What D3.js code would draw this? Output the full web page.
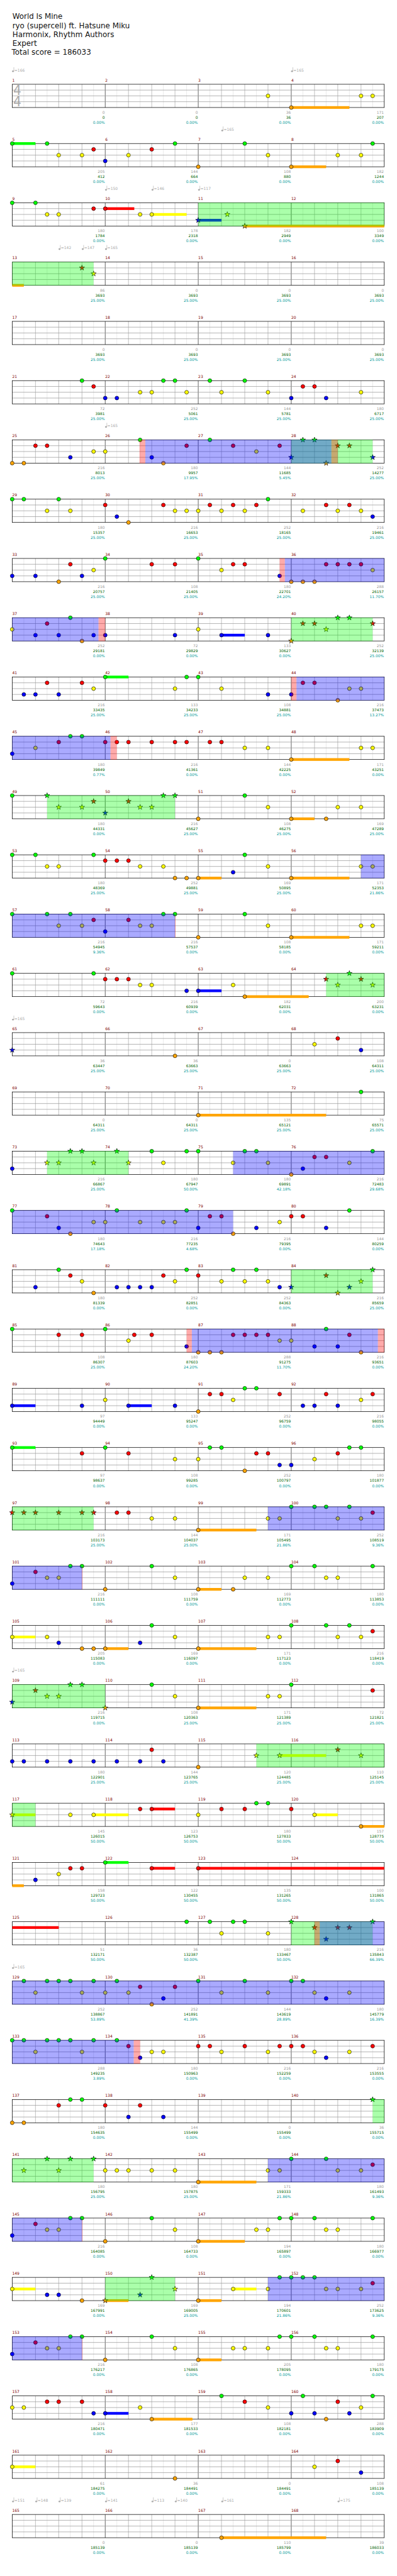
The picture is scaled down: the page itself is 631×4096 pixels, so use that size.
<!DOCTYPE html>
<html><head><meta charset="utf-8">
<script src="https://cdn.jsdelivr.net/npm/d3@7"></script>
<style>html,body{margin:0;padding:0;background:#fff}svg{display:block}text{font-family:"DejaVu Sans",sans-serif}</style>
</head><body><script>
const titleLines=["World Is Mine","ryo (supercell) ft. Hatsune Miku","Harmonix, Rhythm Authors","Expert","Total score = 186033"];
// one inner list per staff row; values are eighth-note positions on that row (0-32)
const greenNotes=[[],[0,3,14,20,31],[0,2],[],[],[6,13,14,17,20],[11,17,25,26],[0,1,4,22],[8,16],[5,28,29],[8,15,16],[5,6],[0,3,13,14,20],[0,2,7,20],[0,3,5,13,14,20],[0,7,29],[],[30],[5,6,9,12,15,16,20,21,31],[0,9,15,29],[4,15,19,21,31],[0,8,27],[20,21],[0,8,17,18,29,30],[24,26,27,29],[5,6,12,24,26,31],[12,24,27,29],[5,6,12,24],[],[21,22],[8],[15,17,19,20,24,31],[1,3,4,5,7,9,16,20,24,25],[0,1,3,4,5,7,9],[5,6,31],[3,5,7,24,27],[5,6,12,23,24,26,31],[12,23,24,25,26],[5,6,12,23,24,26,31],[18,25,31],[],[]];
const redNotes=[[],[7,12],[7,8],[6],[],[7,25,26],[2,3,15,19,23,28,29],[8,13,17,19,21,27,29],[5,12,14,19,20,27,28,29,30],[3,25,26,31],[3,6,25,26],[4,8,9,10,12,14,15,17,18],[7,10],[8,9,10],[7,10],[8,9,10,27,30],[28],[],[26,27],[3,17,18,24,25],[5,13,16,27],[4,6,10.5,12,19,20,21,22,29],[17,18,23,27,31],[6,10,21,22,28],[0,1,2,4,6,7,9,10,31],[2],[31],[2,31],[12,28],[11,12,18,20,24],[5,6,12,16],[26,28,29],[11,14],[10,16,17,20,23,24,25,31],[4,8,11],[31],[2],[31],[2],[3,4,6,20,28],[28 ],[]];
const yellowNotes=[[22,30,31],[4,6,10,22,28,30],[3,4,11,12,18.5],[7],[],[11,12,15,18,22,30],[7,8,21],[3,5,14,15,16,18,20,25,28,30],[7,18,31],[0,16,27],[7,14,18,29,30],[2,20,22,30,31],[4,6,11,12,22,28,30],[3,4,11,13,22,30,31],[4,6,11,12,22,30,31],[11,12,19,28,31],[26],[],[3,4,7,10,13,19,22,29],[7,8,11,13,14,23],[6,14,18,20,22,30],[10,23,24],[8,19,30],[14,16,26],[12,14,22,23,28,30],[3,4,14,20,22,27,28],[0,3,14,22,23,28,30],[3,4,14,22,23],[21,23,30],[0,5,7,16,26],[4],[18,22],[2,6,8,10,18,22,26,29],[2,6,12,13,18,22,26,29],[],[1,4,8,9,10,12,14,22,23,28,30],[3,4,14,21,22,27,28],[0,14,19,22,27,28,30],[3,4,14,19,20,22,27,28],[0,1,11,22,30],[0,26],[]];
const blueNotes=[[],[8],[16],[],[],[8,9,24,27],[5,12,24,31],[9,31],[0,2,6,23],[2,4,7,8,14,18,22],[1,2,4,22,24],[0],[8],[19],[8],[15,16],[0,30],[],[0,25],[4,16,21,27],[2,9,10,11,12,23,24,29],[15,26,28],[0,6,10,14,25,26,28],[23,24],[],[0],[4,11],[0],[0,1,3,5,7,9,11,13],[],[2],[27],[13,27],[11,27],[10,13],[],[0],[3,4,11],[0],[7,8,24,26,29],[30],[]];
const orangeNotes=[[24],[16,24],[20],[],[],[],[0,1,13,27],[10],[4,24,25,26],[6,24],[28],[24],[16,24,27],[14,15,16,24],[16,24],[20],[14],[16],[24],[5,19],[7,28],[16,17,18,30],[16],[20],[16],[8,16,19],[6,7,8,16],[8,16],[16],[30],[],[],[12],[],[0,1],[16],[8,16],[6,8,16],[8,16],[12,27],[14],[18]];
const starPositions=[[],[],[16,18.5,20],[6,7],[],[],[24,25,26,27,28,29,31],[],[],[24,25,26,27,28,29,31],[],[],[3,4,6,7,8,10,11,12,13,14],[],[],[27,28,29,30,31],[0],[],[3,4,5,6,7,9,10],[],[24,27,28,29,30,31],[],[],[],[0,1,2,4,6,7],[],[],[0,2,3,4,5,6,8],[21,23,28,30],[0],[],[24,26,27,28,29,31],[],[],[31],[1,3,4,5,7],[],[8,11,12,14],[],[],[],[]];
// sustains: row, lane (0 green .. 4 orange), start eighth, end eighth
const sustains=[[0,4,24,29],[1,0,0,2],[1,4,24,27],[2,2,12,15],[2,1,8,10.5],[2,3,16,18],[2,4,20,32],[3,4,0,1],[9,3,18,20],[10,0,8,10],[11,4,24,29],[12,4,24,26],[13,4,16,18],[13,4,24,29],[14,4,24,29],[15,3,16,18],[15,4,20,25.5],[17,4,16,27],[22,3,0,2],[22,3,10,12],[23,0,0,2],[24,4,16,21],[25,4,16,18],[26,2,0,2],[26,4,8,10],[26,4,16,21],[27,4,16,21],[28,2,23,27],[29,2,0,2],[29,2,7,10],[29,1,12,14],[29,2,26,28],[29,4,30,32],[30,4,0,1],[30,0,8,10],[30,1,12,14],[30,1,16,32],[31,1,0,4],[35,4,16,21],[36,4,16,20],[37,2,0,2],[37,4,8,10],[37,4,16,18],[37,2,19,21],[38,4,16,18],[39,3,8,10],[39,4,12,15.5],[40,2,0,2],[41,4,18,27]];
// shaded spans: row, start eighth, end eighth
const starSpans=[[2,16,32],[3,0,7],[6,24,31],[9,24,31],[12,3,14],[15,27,32],[18,3,10],[20,24,31],[24,0,7],[27,0,8],[28,21,32],[29,0,2],[31,24,31],[34,31,32],[35,0,7],[37,8,14]];
const pinkSpans=[[6,10.95,11.45],[6,27.45,28],[8,23,23.45],[9,7.42,8],[10,24,24.45],[11,8.45,9],[14,14,14.05],[21,15,15.45],[21,31.45,32],[25,6,6.05],[31,26,26.45],[33,10.45,11],[36,6,6.05],[38,6,6.05]];
const blueSpans=[[6,11.45,27.45],[8,23.45,32],[9,0,7.42],[10,24.45,32],[11,0,8.45],[13,30,32],[14,0,14],[18,19,32],[19,0,19],[21,15.45,31.45],[24,22,32],[25,0,6],[31,26.45,32],[32,0,32],[33,0,10.45],[35,22,32],[36,0,6],[37,22,32],[38,0,6]];
const tempos=[[0,0,166],[0,24,165],[1,18,165],[2,8,150],[2,12,146],[2,16,117],[3,4,142],[3,6,147],[3,8,165],[6,8,165],[16,0,165],[27,0,165],[32,0,165],[41,0,151],[41,2,148],[41,4,139],[41,8,141],[41,12,113],[41,14,140],[41,18,161],[41,28,175]];
const measureScores=[0,0,36,171,205,144,108,182,180,178,182,100,86,0,0,0,0,0,0,0,72,252,144,180,216,180,144,252,180,216,252,216,216,108,180,288,252,72,133,252,216,133,108,216,180,216,144,171,180,216,108,169,180,252,169,171,216,216,108,171,72,216,182,200,36,36,0,108,0,0,135,75,216,180,180,216,180,216,216,144,180,252,252,216,108,180,288,216,97,133,252,216,97,108,252,180,216,144,171,252,216,108,169,180,205,169,171,216,216,108,171,72,180,144,120,110,145,123,180,157,158,122,135,100,51,36,180,216,252,252,144,180,288,180,216,216,180,144,0,36,180,180,171,180,216,108,194,180,169,169,194,252,216,108,205,180,216,177,108,288,61,36,0,108,0,0,110,39];
const runningTotals=[0,0,36,207,412,664,880,1244,1784,2318,2949,3349,3693,3693,3693,3693,3693,3693,3693,3693,3981,5061,5781,6717,8013,9957,11685,14277,15357,16653,18165,19461,20757,21405,22701,26157,29181,29829,30627,32139,33435,34233,34881,37473,39849,41361,42225,43251,44331,45627,46275,47289,48369,49881,50895,52353,54945,57537,58185,59211,59643,60939,62031,63231,63447,63663,63663,64311,64311,64311,65121,65571,66867,67947,69891,72483,74643,77235,79395,80259,81339,82851,84363,85659,86307,87603,91275,93651,94449,95247,96759,98055,98637,99285,100797,101877,103173,104037,105495,108519,111111,111759,112773,113853,115083,116097,117123,118419,119715,120363,121389,121821,122901,123765,124485,125145,126015,126753,127833,128775,129723,130455,131265,131865,132171,132387,133467,135843,138867,141891,143619,145779,149235,150963,152259,153555,154635,155499,155499,155715,156795,157875,159333,161493,164085,164733,165897,166977,167991,169005,170601,173625,176217,176865,178095,179175,180471,181533,182181,183909,184275,184491,184491,185139,185139,185139,185799,186033];
const percents=["0.00","0.00","0.00","0.00","0.00","0.00","0.00","0.00","0.00","0.00","0.00","0.00","25.00","25.00","25.00","25.00","25.00","25.00","25.00","25.00","25.00","25.00","25.00","25.00","25.00","17.95","5.45","25.00","25.00","25.00","25.00","25.00","25.00","25.00","24.20","11.70","0.00","0.00","0.00","25.00","25.00","25.00","25.00","13.27","0.77","0.00","0.00","0.00","0.00","25.00","25.00","25.00","25.00","25.00","25.00","21.86","9.36","0.00","0.00","0.00","0.00","0.00","0.00","0.00","25.00","25.00","25.00","25.00","25.00","25.00","25.00","25.00","25.00","50.00","42.18","29.68","17.18","4.68","0.00","0.00","0.00","0.00","0.00","25.00","25.00","24.20","11.70","0.00","0.00","0.00","0.00","0.00","0.00","0.00","0.00","0.00","25.00","25.00","21.86","9.36","0.00","0.00","0.00","0.00","0.00","0.00","0.00","0.00","0.00","25.00","25.00","25.00","25.00","25.00","25.00","25.00","50.00","50.00","50.00","50.00","50.00","50.00","50.00","50.00","50.00","50.00","50.00","66.39","53.89","41.39","28.89","16.39","3.89","0.00","0.00","0.00","0.00","0.00","0.00","0.00","25.00","25.00","21.86","9.36","0.00","0.00","0.00","0.00","0.00","25.00","21.86","9.36","0.00","0.00","0.00","0.00","0.00","0.00","0.00","0.00","0.00","0.00","0.00","0.00","0.00","0.00","0.00","0.00"];

const laneData=[greenNotes,redNotes,yellowNotes,blueNotes,orangeNotes];
const laneColors=["#00ff00","#ff0000","#ffff00","#0000ff","#ffa500"];
const SCALE=0.616, ROWS=42;
const x=d3.scaleLinear().domain([0,32]).range([31.5,991.5]);
const yLane=d3.scaleLinear().domain([0,4]).range([0,60]);
const yRow=d3.scaleLinear().domain([0,ROWS-1]).range([217.5,6490.5]);

const svg=d3.select("body").append("svg").attr("width",631).attr("height",4096);
const root=svg.append("g").attr("transform",`scale(${SCALE})`);

root.selectAll("text.title").data(titleLines).join("text").attr("class","title")
  .attr("x",(d,i)=>i==4?30:32).attr("y",(d,i)=>49.5+i*23).attr("font-size",19.3).attr("fill","#111").text(d=>d);

const starPath=d3.symbol(d3.symbolStar,58)();
const gridEighth=d3.range(1,32);
d3.range(ROWS).forEach(r=>{
  const g=root.append("g").attr("transform",`translate(0,${yRow(r)})`);
  if(r===0){
    g.selectAll("text.sig").data([27.5,57.5]).join("text").attr("class","sig").attr("x",34).attr("y",d=>d)
      .attr("font-size",33).attr("fill","#aaaaaa").text("4");
  }
  // vertical grid
  g.selectAll("line.v").data(gridEighth).join("line").attr("class","v")
    .attr("x1",d=>x(d)).attr("x2",d=>x(d)).attr("y1",0).attr("y2",60)
    .attr("stroke",d=>d%8===0?"#000":d%2===0?"#999":"#ddd").attr("stroke-width",1);
  // string lines
  g.selectAll("line.h").data([1,2,3]).join("line").attr("class","h")
    .attr("x1",x(0)).attr("x2",x(32)).attr("y1",d=>yLane(d)).attr("y2",d=>yLane(d))
    .attr("stroke","#999").attr("stroke-width",1.2);
  g.append("rect").attr("x",x(0)).attr("y",0).attr("width",x(32)-x(0)).attr("height",60)
    .attr("fill","none").attr("stroke","#000").attr("stroke-width",1.2);
  // sustains
  g.selectAll("rect.s").data(sustains.filter(s=>s[0]===r)).join("rect").attr("class","s")
    .attr("x",d=>x(d[2])).attr("width",d=>x(d[3])-x(d[2])).attr("y",d=>yLane(d[1])-3.5).attr("height",7)
    .attr("fill",d=>laneColors[d[1]]);
  // notes
  laneData.forEach((rowsOfLane,lane)=>{
    const pts=rowsOfLane[r];
    const isStar=p=>starPositions[r].includes(p);
    g.selectAll(`circle.l${lane}`).data(pts.filter(p=>!isStar(p))).join("circle").attr("class",`l${lane}`)
      .attr("cx",d=>x(d)).attr("cy",yLane(lane)).attr("r",4.9)
      .attr("fill",laneColors[lane]).attr("stroke","#000").attr("stroke-width",1);
    g.selectAll(`path.l${lane}`).data(pts.filter(isStar)).join("path").attr("class",`l${lane}`)
      .attr("d",starPath).attr("transform",d=>`translate(${x(d)},${yLane(lane)})`)
      .attr("fill",laneColors[lane]).attr("stroke","#000").attr("stroke-width",1);
  });
  // translucent spans over the notes, clipped to the staff height
  [[starSpans,"#00ff00"],[pinkSpans,"#ff0000"],[blueSpans,"#0000ff"]].forEach(([spans,c],k)=>{
    g.selectAll(`rect.o${k}`).data(spans.filter(s=>s[0]===r)).join("rect").attr("class",`o${k}`)
      .attr("x",d=>x(d[1])).attr("width",d=>x(d[2])-x(d[1])).attr("y",-0.5).attr("height",61)
      .attr("fill",c).attr("fill-opacity",1/3);
  });
  // measure numbers and per-measure labels
  const ms=d3.range(4).map(i=>r*4+i);
  g.selectAll("text.num").data(ms).join("text").attr("class","num")
    .attr("x",d=>x((d-r*4)*8)).attr("y",-7).attr("font-size",9.8).attr("fill","#800000").text(d=>d+1);
  const lab=(arr,cls,dy,col,f)=>g.selectAll("text."+cls).data(ms).join("text").attr("class",cls)
    .attr("x",d=>x((d-r*4+1)*8)-1).attr("y",dy).attr("text-anchor","end").attr("font-size",9.6).attr("fill",col)
    .text(d=>f(arr[d]));
  lab(measureScores,"a",76,"#999999",String);
  lab(runningTotals,"b",89,"#006400",String);
  lab(percents,"c",102,"#009999",v=>v+"%");
  // tempo marks
  const tg=g.selectAll("g.t").data(tempos.filter(t=>t[0]===r)).join("g").attr("class","t")
    .attr("transform",d=>`translate(${x(d[1])},-33)`);
  tg.append("ellipse").attr("cx",2).attr("cy",-0.5).attr("rx",2.6).attr("ry",2.1).attr("fill","#aaaaaa");
  tg.append("line").attr("x1",4.2).attr("x2",4.2).attr("y1",-11).attr("y2",-1).attr("stroke","#aaaaaa").attr("stroke-width",1);
  tg.append("text").attr("x",5.5).attr("y",0).attr("font-size",9.8).attr("fill","#aaaaaa").text(d=>"="+d[2]);
});
</script></body></html>
